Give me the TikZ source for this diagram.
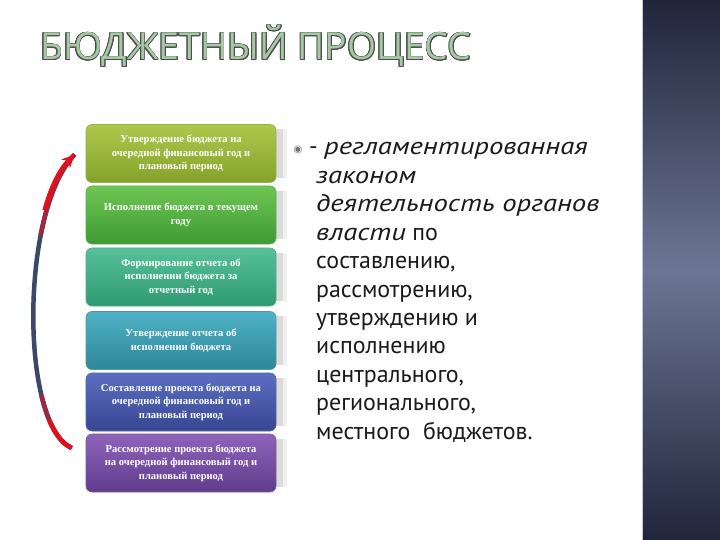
\documentclass[tikz,border=0pt]{standalone}
\usepackage{fontspec}
\setmainfont{PT Sans}[ItalicFeatures={FakeStretch=1.2}]
\newfontfamily\boxfont{Liberation Serif}
\newfontfamily\titlefont{Open Sans}
\newfontfamily\symfont{DejaVu Sans}
\usepackage{contour}
\usetikzlibrary{arrows.meta}
\definecolor{cA1}{HTML}{ADC84C}\definecolor{cA2}{HTML}{84A22A}
\definecolor{cB1}{HTML}{6EC652}\definecolor{cB2}{HTML}{3E9A34}
\definecolor{cC1}{HTML}{55C09A}\definecolor{cC2}{HTML}{2F9A72}
\definecolor{cD1}{HTML}{4EB2C6}\definecolor{cD2}{HTML}{2E8797}
\definecolor{cE1}{HTML}{5C6EC2}\definecolor{cE2}{HTML}{384692}
\definecolor{cF1}{HTML}{8E64BA}\definecolor{cF2}{HTML}{603C8C}
\definecolor{arrred}{HTML}{E0101E}
\definecolor{arrdark}{HTML}{3C4868}
\definecolor{bardark}{HTML}{20253A}
\definecolor{barmid}{HTML}{6C7694}
\definecolor{titlefill}{HTML}{A6C8A6}
\definecolor{titleline}{HTML}{4A4F4A}
\definecolor{bodytext}{HTML}{1A1A1A}
\tikzset{
  stage/.style 2 args={rounded corners=6bp, minimum width=190bp, minimum height=58bp,
    inner sep=2bp, align=center, text=white, draw=#2!85!white, line width=0.6bp,
    top color=#1, bottom color=#2,
    font=\boxfont\bfseries\fontsize{10.6}{13.6}\selectfont},
  bodyline/.style={anchor=base west, inner sep=0pt, text=bodytext,
    font=\fontsize{24}{28}\selectfont},
}
\begin{document}
\begin{tikzpicture}[x=1bp,y=-1bp]
\useasboundingbox (0,0) rectangle (720,540);
\fill[white] (0,0) rectangle (720,540);
% right dark bar
\shade[top color=bardark, bottom color=bardark, middle color=barmid] (642,0) rectangle (720,540);
\draw[white!60!barmid, line width=0.8bp] (642.5,0) -- (642.5,540);
% title
\node[font=\titlefont\fontsize{37.5}{37.5}\selectfont, text=titlefill, anchor=base west, inner sep=0pt] (title) at (40,60)
  {\contourlength{0.7bp}\contour{titleline}{БЮДЖЕТНЫЙ ПРОЦЕСС}};
% tabs
\foreach \t/\b in {124/183,186/244,248/306,311/370,373/431,434/492}{
  \fill[black!14] (270,\t+5) rectangle (287,\b-5);
  \fill[black!6] (283,\t+5) rectangle (287,\b-5);
}
% boxes
\node[stage={cA1}{cA2}] (s1) at (181,153.5) {Утверждение бюджета на\\очередной финансовый год и\\плановый период};
\node[stage={cB1}{cB2}] (s2) at (181,215) {Исполнение бюджета в текущем\\году};
\node[stage={cC1}{cC2}] (s3) at (181,277) {Формирование отчета об\\исполнении бюджета за\\отчетный год};
\node[stage={cD1}{cD2}] (s4) at (181,340.5) {Утверждение отчета об\\исполнении бюджета};
\node[stage={cE1}{cE2}] (s5) at (181,402) {Составление проекта бюджета на\\очередной финансовый год и\\плановый период};
\node[stage={cF1}{cF2}] (s6) at (181,463) {Рассмотрение проекта бюджета\\на очередной финансовый год и\\плановый период};
% cycle arrow
\coordinate (aS) at ([xshift=-14bp,yshift=15bp]s6.west);
\coordinate (aE) at ([xshift=-11bp,yshift=-1bp]s1.west);
\draw[arrdark, line width=4.5bp] (aS) .. controls (20,425) and (20,210) .. (aE);
\begin{scope}
  \clip (0,100) rectangle (120,235);
  \draw[arrred!60!arrdark, line width=4.5bp] (aS) .. controls (20,425) and (20,210) .. (aE);
\end{scope}
\begin{scope}
  \clip (0,100) rectangle (120,210);
  \draw[arrred, line width=4.5bp, -{Stealth[length=13bp,width=12bp]}] (aS) .. controls (20,425) and (20,210) .. (aE);
\end{scope}
\begin{scope}
  \clip (0,395) rectangle (120,540);
  \draw[arrred!60!arrdark, line width=4.5bp] (aS) .. controls (20,425) and (20,210) .. (aE);
\end{scope}
\begin{scope}
  \clip (0,420) rectangle (120,540);
  \draw[arrred, line width=4.5bp] (aS) .. controls (20,425) and (20,210) .. (aE);
\end{scope}
% bullet text
\node[anchor=base, inner sep=0pt, text=black!55, font=\symfont\fontsize{10}{10}\selectfont] (bul) at (298,153) {◉};
\node[bodyline] (l1) at (309,155) {- \textit{регламентированная}};
\node[bodyline] (l2) at (316,183.4) {\textit{законом}};
\node[bodyline] (l3) at (316,211.8) {\textit{деятельность органов}};
\node[bodyline] (l4) at (316,240.2) {\textit{власти} по};
\node[bodyline] (l5) at (316,268.6) {составлению,};
\node[bodyline] (l6) at (316,297) {рассмотрению,};
\node[bodyline] (l7) at (316,325.4) {утверждению и};
\node[bodyline] (l8) at (316,353.8) {исполнению};
\node[bodyline] (l9) at (316,382.2) {центрального,};
\node[bodyline] (l10) at (316,410.6) {регионального,};
\node[bodyline] (l11) at (316,439) {местного\ \ бюджетов.};
\end{tikzpicture}
\end{document}
